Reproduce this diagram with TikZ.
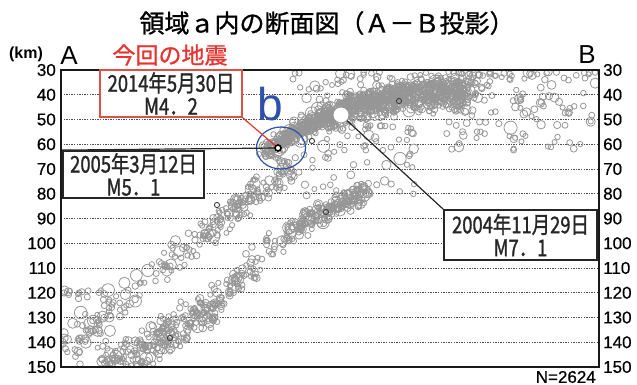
\documentclass[tikz,border=0pt]{standalone}
\usetikzlibrary{shapes.geometric}
\usepackage{fontspec}
\setmainfont{Liberation Sans}
\newfontfamily\jp[FakeBold=1]{Noto Sans CJK JP}
\newfontfamily\jpc[FakeStretch=0.8,FakeBold=1.2]{Noto Sans CJK JP}
\newfontfamily\ticksans[FakeBold=0.6]{Liberation Sans}
\definecolor{qgray}{RGB}{150,150,150}
\definecolor{bblue}{RGB}{45,80,170}
\definecolor{rred}{RGB}{232,52,48}
\definecolor{boxred}{RGB}{222,82,68}
\newcommand\qkband[6]{%
  \foreach \i in {1,...,#1}{%
    \pgfmathsetmacro\qs{rnd}%
    \pgfmathsetmacro\qp{(rnd+rnd-1)*#6}%
    \pgfmathsetmacro\ql{veclen(#4-#2,#5-#3)}%
    \pgfmathsetmacro\qx{#2+(#4-#2)*\qs-(#5-#3)*\qp/\ql}%
    \pgfmathsetmacro\qy{#3+(#5-#3)*\qs+(#4-#2)*\qp/\ql}%
    \pgfmathsetmacro\qr{2.5+0.6*rnd+3.5*rnd^8}%
    \draw[qk] (\qx,\qy) circle[radius=\qr pt];
  }}
\newcommand\qkbox[5]{%
  \foreach \i in {1,...,#1}{%
    \pgfmathsetmacro\qx{#2+(#4-#2)*rnd}%
    \pgfmathsetmacro\qy{#3+(#5-#3)*rnd^1.6}%
    \pgfmathsetmacro\qr{2.5+0.6*rnd+3.5*rnd^8}%
    \draw[qk] (\qx,\qy) circle[radius=\qr pt];
  }}
\begin{document}
\begin{tikzpicture}[x=1pt,y=-1pt,
  qk/.style={draw=qgray,line width=0.8pt},
  qkdark/.style={draw=black!75,line width=0.9pt},
  gridln/.style={draw=black!70,line width=0.9pt,dash pattern=on 1.3pt off 1.3pt},
  frameln/.style={draw=black!90,line width=2.3pt},
  evbox/.style={draw=black!85,line width=1.8pt,fill=white,inner sep=0pt,align=center,
     font=\jpc\fontsize{23}{23}\selectfont,text=black!85},
  ticklab/.style={font=\ticksans\fontsize{17}{17}\selectfont,inner sep=0pt}]
\useasboundingbox (0,0) rectangle (637,385);

% grid
\foreach \k in {1,...,11}{%
  \pgfmathsetmacro\gy{70+24.75*\k}
  \draw[gridln] (61,\gy) -- (599,\gy);
}

% scatter
\begin{scope}
\clip (61,70) rectangle (599,367);
\pgfmathsetseed{7}
% upper dense band
\foreach \i in {1,...,1000}{%
  \pgfmathsetmacro\qs{max(rnd,0.001)^0.9}%
  \pgfmathsetmacro\qx{266+204*\qs+(rnd-rnd)*8}%
  \pgfmathsetmacro\qy{92+60*max(1-\qs,0.001)^2.5+(rnd+rnd+rnd-1.5)*(9+10*\qs)}%
  \pgfmathsetmacro\qr{2.5+0.6*rnd+3.5*rnd^8}%
  \draw[qk] (\qx,\qy) circle[radius=\qr pt];
}
\qkbox{130}{440}{72}{598}{150}
\qkbox{40}{290}{72}{400}{100}
\qkbox{80}{295}{125}{415}{200}
% lower planes
\qkband{260}{105}{372}{222}{300}{22}
\qkband{90}{215}{300}{300}{225}{16}
\qkband{160}{295}{228}{368}{190}{13}
\qkband{170}{64}{348}{292}{165}{16}
\qkband{70}{200}{235}{290}{165}{14}
\qkbox{35}{62}{290}{110}{365}
% dark dots
\draw[qkdark] (399,101) circle[radius=2.6pt];
\draw[qkdark] (312,141) circle[radius=2.6pt];
\draw[qkdark] (326,212) circle[radius=2.6pt];
\draw[qkdark] (217,205) circle[radius=2.6pt];
\draw[qkdark] (170,338) circle[radius=2.6pt];
\end{scope}

% frame
\draw[frameln] (61,70) rectangle (599,367);

% tick labels
\foreach \d in {30,40,...,150}{%
  \pgfmathsetmacro\ty{70+(\d-30)*2.475}
  \node[ticklab,anchor=east] (tl\d) at (56,\ty) {\d};
  \node[ticklab,anchor=west] (tr\d) at (603,\ty) {\d};
}

% special events
\node[circle,draw=qgray,fill=white,line width=0.8pt,minimum size=16pt,inner sep=0pt] (m7) at (341,115) {};
\node[circle,draw=black,fill=white,line width=1.6pt,minimum size=6pt,inner sep=0pt] (ev1) at (278,148) {};
\node[draw=bblue,line width=1.2pt,ellipse,minimum width=49pt,minimum height=42pt,inner sep=0pt] (bell) at (281,148) {};
\node[text=bblue,font=\fontsize{46}{46}\selectfont,inner sep=0pt] (blab) at (270,104) {b};

% boxes
\node[evbox,draw=boxred,line width=1.5pt,minimum width=142pt,minimum height=47pt] (box1) at (171,93.5) {2014年5月30日\\M4．2};
\node[evbox,minimum width=141pt,minimum height=47pt] (box2) at (133.5,174.5) {2005年3月12日\\M5．1};
\node[evbox,minimum width=153pt,minimum height=50pt] (box3) at (520.5,235) {2004年11月29日\\M7．1};

% connectors
\draw[rred,line width=1.2pt] (box1.south east) -- (ev1);
\draw[black!85,line width=1.2pt] (box2.north west) -- (ev1);
\draw[black!85,line width=1.2pt] (m7) -- (box3.north west);

% labels
\node[font=\jp\fontsize{25}{25}\selectfont,inner sep=0pt] (title) at (327,23) {領域ａ内の断面図（Ａ－Ｂ投影）};
\node[font=\jp\fontsize{23}{23}\selectfont,text=rred,inner sep=0pt] (konkai) at (170,55) {今回の地震};
\node[font=\bfseries\fontsize{16}{16}\selectfont,inner sep=0pt] (km) at (26,54) {(km)};
\node[font=\fontsize{26}{26}\selectfont,inner sep=0pt] (labA) at (69,56) {A};
\node[font=\fontsize{26}{26}\selectfont,inner sep=0pt] (labB) at (587,55) {B};
\node[font=\ticksans\fontsize{17}{17}\selectfont,inner sep=0pt,anchor=east] (nn) at (596,377) {N=2624};
\end{tikzpicture}
\end{document}
